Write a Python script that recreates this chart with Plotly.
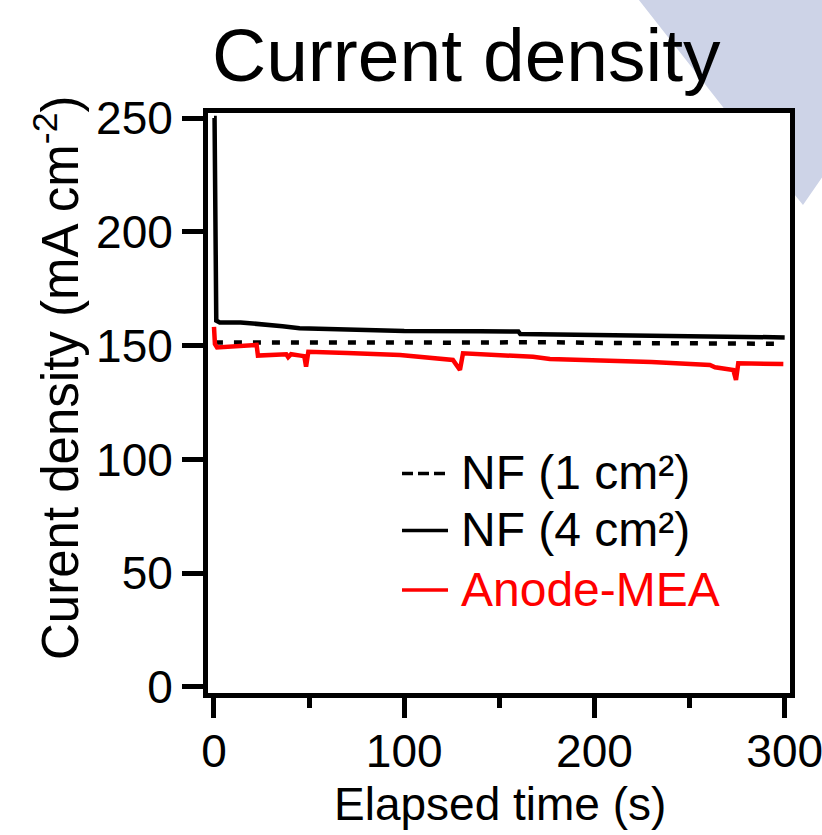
import plotly.graph_objects as go

# ---------------- data ----------------
t_nf1 = [0.5, 25, 50, 75, 100, 125, 150, 165, 175, 200, 225, 250, 275, 300]
v_nf1 = [151.4, 151.3, 151.3, 151.2, 151.2, 151.3, 151.4, 151.6, 151.5, 151.2, 151.1, 151.0, 150.9, 150.8]

t_nf4 = [0, 0.3, 1.2, 3, 14, 25, 36, 45, 70, 100, 140, 160, 161, 200, 250, 300]
v_nf4 = [250, 250, 161.0, 160.2, 160.2, 159.5, 158.5, 157.6, 157.0, 156.4, 156.3, 156.2, 155.1, 154.8, 154.2, 153.6]

t_mea = [0, 0.5, 1.6, 10, 22.4, 23.1, 36, 38, 39, 40.5, 45.5, 47.5, 48.4, 49.6, 70, 97.8,
         125.6, 129.3, 130.9, 150, 167.7, 176.6, 202.9, 230, 260.7, 263.4, 273, 274.4, 275.6, 299.3]
v_mea = [158.2, 150.7, 149.2, 149.6, 150.3, 145.6, 146.3, 146.2, 144.9, 146.2, 145.6, 145.3, 140.8, 147.3, 146.8, 145.9,
         143.7, 139.3, 146.6, 145.6, 145.1, 144.1, 143.7, 142.8, 141.5, 140.5, 139.3, 134.9, 142.2, 141.9]

x_ticks = [0, 100, 200, 300]
y_ticks = [0, 50, 100, 150, 200, 250]
legend_names = ["NF (1 cm²)", "NF (4 cm²)", "Anode-MEA"]

# ---------------- layout geometry ----------------
W, H = 822, 835
L, R, T, B = 208, 790, 113, 693  # plot area in pixels
FONT = "Liberation Sans, Arial, sans-serif"


def px(xp, yp):
    """pixel -> paper coords"""
    return (xp - L) / (R - L), (B - yp) / (B - T)


fig = go.Figure()
fig.add_trace(go.Scatter(x=t_nf1, y=v_nf1, mode="lines", name=legend_names[0],
                         line=dict(color="black", width=4.5, dash="8px,11px")))
fig.add_trace(go.Scatter(x=t_nf4, y=v_nf4, mode="lines", name=legend_names[1],
                         line=dict(color="black", width=4.5)))
fig.add_trace(go.Scatter(x=t_mea, y=v_mea, mode="lines", name=legend_names[2],
                         line=dict(color="#ff0000", width=4.5)))

# background triangle (outside the plot area)
tri_px = [(635, -5), (727.6, 113), (790, 113), (790, 189), (803, 205), (830, 166), (830, -5)]
path = "M " + " L ".join("%.4f %.4f" % px(a, b) for a, b in tri_px) + " Z"
shapes = [dict(type="path", xref="paper", yref="paper", path=path,
               fillcolor="#cdd3e7", line=dict(width=0), layer="below")]

# legend symbols + labels
rows_y = [473.5, 530.5, 590]
colors = ["black", "black", "#ff0000"]
dashes = ["11px,5px", "solid", "solid"]
annotations = []
for i in range(3):
    x0, y0 = px(402, rows_y[i])
    x1, _ = px(448, rows_y[i])
    shapes.append(dict(type="line", xref="paper", yref="paper", x0=x0, x1=x1, y0=y0, y1=y0,
                       line=dict(color=colors[i], width=3.5, dash=dashes[i])))
    tx, ty = px(459, rows_y[i] - 1)
    annotations.append(dict(xref="paper", yref="paper", x=tx, y=ty, xanchor="left", yanchor="middle",
                            text=legend_names[i], showarrow=False,
                            font=dict(family=FONT, size=48, color=colors[i])))

# title
tx, ty = px(466, 55)
annotations.append(dict(xref="paper", yref="paper", x=tx, y=ty, xanchor="center", yanchor="middle",
                        text="Current density", showarrow=False,
                        font=dict(family=FONT, size=75, color="black")))
# axis titles
tx, ty = px(500, 804)
annotations.append(dict(xref="paper", yref="paper", x=tx, y=ty, xanchor="center", yanchor="middle",
                        text="Elapsed time (s)", showarrow=False,
                        font=dict(family=FONT, size=46, color="black")))
tx, ty = px(57, 378)
annotations.append(dict(xref="paper", yref="paper", x=tx, y=ty, xanchor="center", yanchor="middle",
                        text="Curent density (mA cm<sup>-2</sup>)", textangle=-90, showarrow=False,
                        font=dict(family=FONT, size=51, color="black")))

fig.update_layout(
    width=W, height=H,
    margin=dict(l=L, r=W - R, t=T, b=H - B, pad=0, autoexpand=False),
    paper_bgcolor="white", plot_bgcolor="white",
    showlegend=False,
    shapes=shapes, annotations=annotations,
    font=dict(family=FONT, size=46, color="black"),
)
fig.update_xaxes(range=[-3.15, 302.8], tickvals=x_ticks, ticktext=[str(v) for v in x_ticks],
                 ticks="outside", ticklen=20, tickwidth=4.5, tickcolor="black",
                 ticklabeloverflow="allow", ticklabelstandoff=-6, automargin=False,
                 minor=dict(dtick=50, tick0=0, ticks="outside", ticklen=10, tickwidth=4.5, tickcolor="black"),
                 showline=True, linewidth=5, linecolor="black", mirror=True,
                 showgrid=False, zeroline=False, tickfont=dict(family=FONT, size=46))
fig.update_yaxes(range=[-2.64, 252.2], tickvals=y_ticks, ticktext=[str(v) for v in y_ticks],
                 ticks="outside", ticklen=21, tickwidth=4.5, tickcolor="black", automargin=False,
                 showline=True, linewidth=5, linecolor="black", mirror=True,
                 showgrid=False, zeroline=False, tickfont=dict(family=FONT, size=46))

fig.write_html("out.html", config={"displayModeBar": False},
               post_script="document.body.style.margin='0px';document.body.style.overflow='hidden';")
